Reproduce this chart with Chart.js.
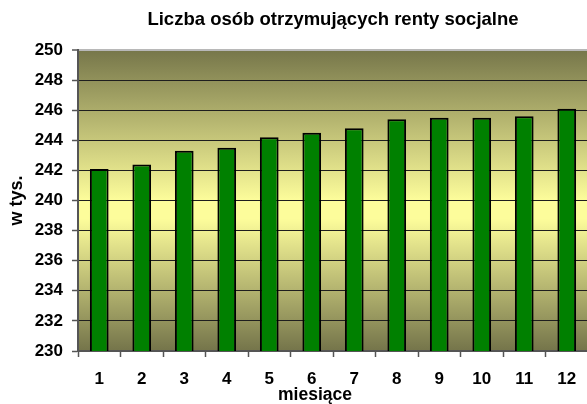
<!DOCTYPE html>
<html>
<head>
<meta charset="utf-8">
<script src="https://cdn.jsdelivr.net/npm/chart.js@4"></script>
<style>
  html, body { margin: 0; padding: 0; background: #fff; overflow: hidden; }
  #wrap { width: 590px; height: 404px; }
</style>
</head>
<body>
<div id="wrap"><canvas id="c" width="590" height="404"></canvas></div>
<script>
const chartTitle = 'Liczba osób otrzymujących renty socjalne';
const xTitle = 'miesiące';
const yTitle = 'w tys.';
const months = ['1', '2', '3', '4', '5', '6', '7', '8', '9', '10', '11', '12'];
const pensioners = [242.1, 242.4, 243.3, 243.5, 244.2, 244.5, 244.8, 245.4, 245.5, 245.5, 245.6, 246.1];
const yMin = 230, yMax = 250, yStep = 2;

const FONT = '"Liberation Sans", Arial, sans-serif';

const plotBg = {
  id: 'plotBg',
  beforeDraw(chart) {
    const { ctx, chartArea: a } = chart;
    const g = ctx.createLinearGradient(0, a.top, 0, a.bottom);
    g.addColorStop(0, '#76764a');
    g.addColorStop(0.5, '#fdfd9b');
    g.addColorStop(0.56, '#fdfd9b');
    g.addColorStop(1, '#74744a');
    ctx.save();
    ctx.fillStyle = '#ffffff';
    ctx.fillRect(0, 0, chart.width, chart.height);
    ctx.fillStyle = g;
    ctx.fillRect(a.left, a.top, a.right - a.left, a.bottom - a.top);
    ctx.restore();
  }
};

// x-axis title, placed a little left of the plot centre as in the original
const xAxisTitle = {
  id: 'xAxisTitle',
  afterDraw(chart) {
    const { ctx, chartArea: a } = chart;
    ctx.save();
    ctx.fillStyle = '#000';
    ctx.font = 'bold 17.5px ' + FONT;
    ctx.textAlign = 'center';
    ctx.textBaseline = 'middle';
    ctx.fillText(xTitle, (a.left + a.right) / 2 - 18, chart.height - 9);
    ctx.restore();
  }
};

new Chart(document.getElementById('c'), {
  type: 'bar',
  data: {
    labels: months,
    datasets: [{
      data: pensioners,
      backgroundColor: '#008000',
      borderColor: '#000000',
      borderWidth: 2,
      borderSkipped: false,
      categoryPercentage: 1,
      barPercentage: 0.44
    }]
  },
  options: {
    responsive: false,
    animation: false,
    devicePixelRatio: 1,
    layout: { padding: { left: 0, right: 2, top: 0, bottom: 0 } },
    plugins: {
      legend: { display: false },
      tooltip: { enabled: false },
      title: {
        display: true,
        text: chartTitle,
        fullSize: false,
        color: '#000',
        font: { family: FONT, size: 18.5, weight: 'bold', lineHeight: 1.2 },
        padding: { top: 9, bottom: 18.8 }
      }
    },
    scales: {
      x: {
        grid: { display: true, drawOnChartArea: false, offset: true, tickLength: 6, tickColor: '#555', tickWidth: 1.5 },
        border: { display: true, color: '#555', width: 2 },
        ticks: { color: '#000', padding: 12, font: { family: FONT, size: 17, weight: 'bold', lineHeight: 1.2 }, maxRotation: 0, autoSkip: false },
        title: { display: false, text: xTitle },
        afterFit(s) { s.height = 53; }
      },
      y: {
        min: yMin,
        max: yMax,
        grid: {
          color: (c) => (c.tick && c.tick.value === yMax ? '#b8b8b8' : '#1e1e1e'),
          lineWidth: (c) => (c.tick && c.tick.value === yMax ? 2 : 1),
          tickLength: 6,
          tickColor: '#555',
          tickWidth: 1.5
        },
        border: { display: true, color: '#555', width: 2 },
        ticks: { stepSize: yStep, color: '#000', padding: 9, font: { family: FONT, size: 17, weight: 'bold' } },
        title: { display: true, text: yTitle, color: '#000', font: { family: FONT, size: 18, weight: 'bold', lineHeight: 1.2 }, padding: { top: 6, bottom: 0 } },
        afterFit(s) { s.width = 78; }
      }
    }
  },
  plugins: [plotBg, xAxisTitle]
});
</script>
</body>
</html>
